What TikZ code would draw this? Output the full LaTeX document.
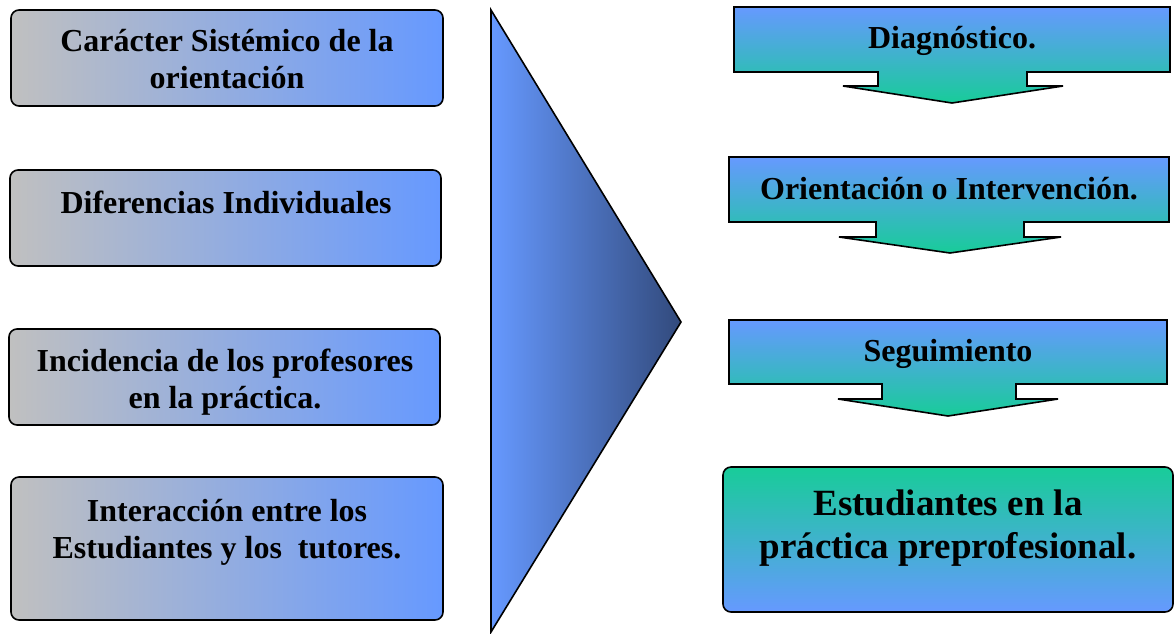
\documentclass[tikz,border=0pt]{standalone}
\usepackage{fontspec}
\setmainfont{Liberation Serif}
\usepackage{tikz}
\usetikzlibrary{positioning}
\definecolor{boxgray}{RGB}{192,192,192}
\definecolor{boxblue}{RGB}{102,153,255}
\definecolor{boxgreen}{RGB}{24,204,153}
\definecolor{tridark}{RGB}{50,74,124}
\tikzset{
    x=1pt, y=-1pt, % pixel-like coordinates, y grows downwards
    factor/.style={ % boxes on the left
        draw, line width=1.6pt,
        rounded corners=8pt,
        left color=boxgray, right color=boxblue
    },
    stage/.style={ % callout arrows on the right
        draw, line width=1.6pt,
        top color=boxblue, bottom color=boxgreen
    },
    txt/.style={
        align=center, inner sep=0pt,
        font=\fontsize{32}{37}\selectfont\bfseries
    },
    bigtxt/.style={
        align=center, inner sep=0pt,
        font=\fontsize{37}{43}\selectfont\bfseries
    }
}
\begin{document}
\begin{tikzpicture}
    \useasboundingbox (0,0) rectangle (1174,633);
    % left column
    \node[factor, minimum width=432pt, minimum height=96pt]  (car) at (227,58)    {};
    \node[factor, minimum width=431pt, minimum height=96pt]  (dif) at (225.5,218) {};
    \node[factor, minimum width=431pt, minimum height=96pt]  (inc) at (224.5,377) {};
    \node[factor, minimum width=432pt, minimum height=143pt] (int) at (227,548.5) {};
    \node[txt, anchor=base] (carT) at (227,88)  {Carácter Sistémico de la\\orientación};
    \node[txt, anchor=base] (difT) at (226,213) {Diferencias Individuales};
    \node[txt, anchor=base] (incT) at (225,408) {Incidencia de los profesores\\en la práctica.};
    \node[txt, anchor=base] (intT) at (227,558) {Interacción entre los\\Estudiantes y los\ \ tutores.};
    % big arrow in the middle
    \draw[line width=1.6pt, left color=boxblue, middle color=boxblue!92!tridark, right color=tridark]
        (491,10) -- (681,322) -- (491,632) -- cycle;
    % stages on the right
    \draw[stage] (734,7) -- (1170,7) -- (1170,72) -- (1027,72) -- (1027,86) -- (1063,86)
        -- (952,103) -- (843,86) -- (878,86) -- (878,72) -- (734,72) -- cycle;
    \draw[stage] (729,157) -- (1169,157) -- (1169,222) -- (1024,222) -- (1024,237) -- (1061,237)
        -- (950,253) -- (839,237) -- (876,237) -- (876,222) -- (729,222) -- cycle;
    \draw[stage] (729,320) -- (1167,320) -- (1167,384) -- (1016,384) -- (1016,399) -- (1058,399)
        -- (948,416) -- (838,399) -- (882,399) -- (882,384) -- (729,384) -- cycle;
    \node[txt, anchor=base] (diag)   at (952,48)  {Diagnóstico.};
    \node[txt, anchor=base] (orient) at (949,199) {Orientación o Intervención.};
    \node[txt, anchor=base] (seg)    at (948,361) {Seguimiento};
    \node[draw, line width=1.6pt, rounded corners=8pt, top color=boxgreen, bottom color=boxblue,
          minimum width=450pt, minimum height=145pt] (est) at (948,539.5) {};
    \node[bigtxt, anchor=base] (estT) at (948,558) {Estudiantes en la\\práctica preprofesional.};
\end{tikzpicture}
\end{document}
